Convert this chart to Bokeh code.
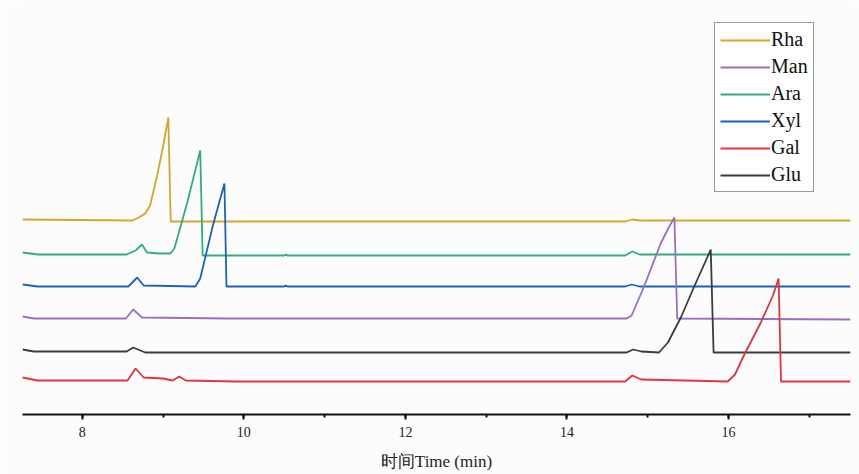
from bokeh.plotting import figure
from bokeh.models import Range1d, SingleIntervalTicker, Legend, LegendItem
from bokeh.embed import file_html
from bokeh.resources import INLINE

# Retention time (min) and detector signal (arbitrary units, stacked traces)
rha_t = [7.26, 8.62, 8.70, 8.78, 8.84, 8.93, 9.00, 9.065, 9.095, 14.72, 14.81, 14.90, 17.51]
rha_v = [195, 194, 197, 201, 209, 240, 268, 297, 193, 193, 195, 194, 194]

ara_t = [7.26, 7.45, 8.55, 8.66, 8.74, 8.80, 8.95, 9.09, 9.14, 9.30, 9.46, 9.49, 10.50, 10.52, 10.54, 14.72, 14.81, 14.90, 17.51]
ara_v = [162, 160, 160, 164, 170, 162, 161, 161, 166, 212, 264, 159, 159, 160, 159, 159, 163, 160, 160]

xyl_t = [7.26, 7.45, 8.57, 8.68, 8.76, 9.40, 9.46, 9.62, 9.76, 9.785, 10.50, 10.52, 10.54, 14.72, 14.80, 14.90, 17.51]
xyl_v = [130, 128, 128, 137, 129, 128, 136, 190, 231, 128, 128, 129, 128, 128, 130, 128, 128]

man_t = [7.26, 7.40, 8.54, 8.63, 8.74, 9.80, 14.74, 14.80, 14.95, 15.16, 15.26, 15.33, 15.365, 17.51]
man_v = [98, 96, 96, 105, 97, 96, 96, 99, 127, 171, 187, 197, 96, 95]

glu_t = [7.26, 7.40, 8.55, 8.63, 8.78, 9.40, 14.74, 14.82, 14.92, 15.14, 15.25, 15.41, 15.57, 15.72, 15.78, 15.815, 17.51]
glu_v = [65, 63, 63, 67, 62, 62, 62, 65, 63, 62, 72, 97, 127, 154, 165, 62, 62]

gal_t = [7.26, 7.45, 8.56, 8.66, 8.76, 9.00, 9.12, 9.20, 9.28, 9.90, 14.72, 14.81, 14.92, 15.99, 16.08, 16.19, 16.40, 16.55, 16.62, 16.65, 17.51]
gal_v = [37, 34, 34, 46, 37, 36, 34, 38, 34, 33, 33, 39, 35, 33, 40, 59, 92, 119, 136, 33, 33]

names = ["Rha", "Man", "Ara", "Xyl", "Gal", "Glu"]
colors = {"Rha": "#D2A82A", "Man": "#9B6EC4", "Ara": "#2EAE7E",
          "Xyl": "#1E60C0", "Gal": "#E3343F", "Glu": "#3C3C3C"}
series = {"Rha": (rha_t, rha_v), "Man": (man_t, man_v), "Ara": (ara_t, ara_v),
          "Xyl": (xyl_t, xyl_v), "Gal": (gal_t, gal_v), "Glu": (glu_t, glu_v)}

SERIF = "Liberation Serif"

p = figure(width=859, height=474, output_backend="svg", toolbar_location=None,
           x_range=Range1d(7.26, 17.51), y_range=Range1d(0, 414),
           min_border_left=22, min_border_right=9, min_border_top=0, min_border_bottom=60)
p.background_fill_color = "#fcfcfc"
p.border_fill_color = "#fcfcfc"
p.outline_line_color = None
p.xgrid.visible = False
p.ygrid.visible = False
p.yaxis.visible = False

renderers = {}
for n in ["Rha", "Ara", "Xyl", "Man", "Glu", "Gal"]:
    t, v = series[n]
    renderers[n] = p.line(t, v, line_color=colors[n], line_width=1.8)

ax = p.xaxis[0]
ax.ticker = SingleIntervalTicker(interval=2, num_minor_ticks=2)
ax.axis_line_width = 2
ax.axis_line_color = "#111111"
ax.major_tick_line_width = 2
ax.major_tick_line_color = "#111111"
ax.minor_tick_line_width = 2
ax.minor_tick_line_color = "#111111"
ax.major_tick_in = 0
ax.major_tick_out = 5
ax.minor_tick_in = 0
ax.minor_tick_out = 3
ax.major_label_text_font = SERIF
ax.major_label_text_font_size = "14px"
ax.major_label_text_color = "#222222"
ax.major_label_standoff = 7
ax.axis_label = "时间Time (min)"
ax.axis_label_text_font = SERIF
ax.axis_label_text_font_size = "17px"
ax.axis_label_text_font_style = "normal"
ax.axis_label_text_color = "#222222"
ax.axis_label_standoff = 12

legend = Legend(items=[LegendItem(label=n, renderers=[renderers[n]]) for n in names],
                location=(692, 222), orientation="vertical",
                glyph_width=50, glyph_height=20, label_height=20, label_width=30,
                spacing=4, padding=5, margin=0, label_standoff=1,
                label_text_font=SERIF, label_text_font_size="20px",
                label_text_color="#111111",
                border_line_color="#333333", border_line_width=1,
                background_fill_color="#ffffff", background_fill_alpha=1.0)
p.add_layout(legend)

open("out.html", "w").write(file_html(p, INLINE))
